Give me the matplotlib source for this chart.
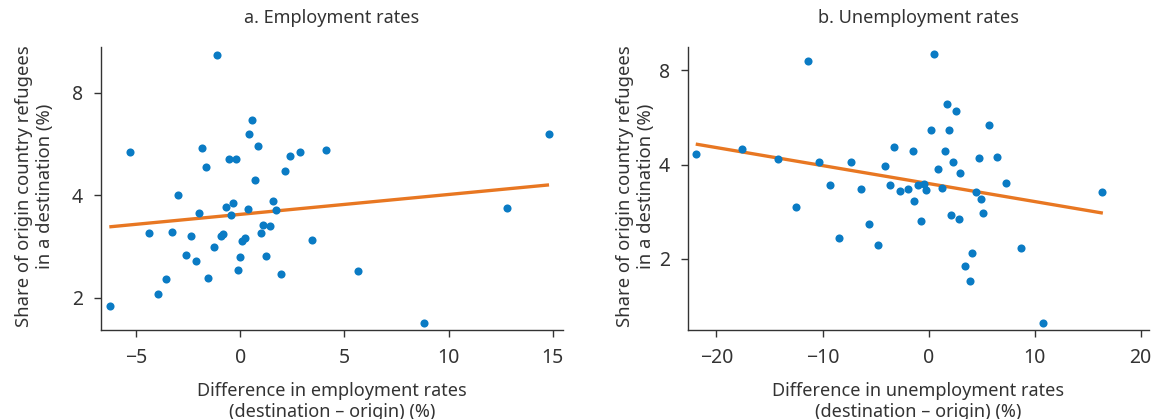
import matplotlib
matplotlib.use("Agg")
import matplotlib.pyplot as plt
from matplotlib.ticker import FixedLocator, NullLocator, FixedFormatter

plt.rcParams['font.family'] = ['Noto Sans', 'DejaVu Sans']

# ---------------- data ----------------
# Panel a: difference in employment rates vs share of refugees (%)
emp_x = [-6.27, -5.28, -4.40, -3.94, -3.55, -3.26, -2.98, -2.60, -2.35, -2.12,
         -1.96, -1.84, -1.66, -1.53, -1.25, -1.09, -0.93, -0.82, -0.66, -0.55,
         -0.43, -0.34, -0.21, -0.11, 0.00, 0.09, 0.21, 0.39, 0.43, 0.55,
         0.70, 0.84, 0.98, 1.07, 1.25, 1.43, 1.55, 1.71, 1.94, 2.16,
         2.39, 2.85, 3.44, 4.12, 5.65, 8.82, 12.82, 14.81]
emp_y = [1.89, 5.36, 3.10, 2.05, 2.27, 3.11, 4.02, 2.67, 3.04, 2.57,
         3.54, 5.49, 4.83, 2.29, 2.82, 10.35, 3.04, 3.08, 3.69, 5.10,
         3.50, 3.79, 5.12, 2.42, 2.63, 2.93, 2.99, 3.64, 6.06, 6.67,
         4.43, 5.59, 3.10, 3.28, 2.65, 3.24, 3.85, 3.62, 2.35, 4.70,
         5.20, 5.37, 2.96, 5.42, 2.39, 1.69, 3.68, 6.06]
emp_fit_x = [-6.28, 14.82]
emp_fit_y = [3.23, 4.29]

# Panel b: difference in unemployment rates vs share of refugees (%)
unemp_x = [-21.93, -17.62, -14.22, -12.54, -11.35, -10.37, -9.32, -8.48, -7.32, -6.41,
           -5.60, -4.80, -4.13, -3.68, -3.22, -2.70, -1.96, -1.51, -1.33, -1.00,
           -0.75, -0.47, -0.22, 0.21, 0.50, 0.85, 1.26, 1.51, 1.70, 1.89,
           2.14, 2.33, 2.61, 2.83, 2.95, 3.39, 3.86, 4.08, 4.43, 4.74,
           4.90, 5.09, 5.68, 6.41, 7.32, 8.67, 10.78, 16.37]
unemp_y = [4.32, 4.49, 4.17, 2.92, 8.54, 4.09, 3.44, 2.33, 4.09, 3.35,
           2.58, 2.22, 3.97, 3.43, 4.54, 3.30, 3.34, 4.41, 3.07, 3.43,
           2.65, 3.47, 3.32, 5.17, 9.00, 3.88, 3.36, 4.43, 6.26, 5.14,
           2.76, 4.08, 5.92, 2.69, 3.77, 1.90, 1.70, 2.09, 3.27, 4.21,
           3.10, 2.80, 5.36, 4.22, 3.49, 2.17, 1.25, 3.26]
unemp_fit_x = [-21.95, 16.43]
unemp_fit_y = [4.65, 2.80]

y_ticks = [2, 4, 8]
y_tick_labels = ['2', '4', '8']
emp_x_ticks = [-5, 0, 5, 10, 15]
emp_x_tick_labels = ['\u22125', '0', '5', '10', '15']
unemp_x_ticks = [-20, -10, 0, 10, 20]
unemp_x_tick_labels = ['\u221220', '\u221210', '0', '10', '20']

titles = ['a. Employment rates', 'b. Unemployment rates']
xlabels = ['Difference in employment rates\n(destination \u2013 origin) (%)',
           'Difference in unemployment rates\n(destination \u2013 origin) (%)']
ylabel = 'Share of origin country refugees\nin a destination (%)'

# ---------------- style ----------------
DOT = '#0A7BC4'
LINE = '#E87722'
DARK = '#333333'

W, H = 1164, 419
fig = plt.figure(figsize=(W / 100, H / 100), dpi=100)

def box(l, r, t, b):
    return [l / W, (H - b) / H, (r - l) / W, (b - t) / H]

ax_a = fig.add_axes(box(101, 563, 47, 330))
ax_b = fig.add_axes(box(688, 1149, 47, 330))

panels = [
    (ax_a, emp_x, emp_y, emp_fit_x, emp_fit_y, emp_x_ticks, emp_x_tick_labels,
     (-6.68, 15.49), (1.608, 10.9), -0.101),
    (ax_b, unemp_x, unemp_y, unemp_fit_x, unemp_fit_y, unemp_x_ticks, unemp_x_tick_labels,
     (-22.68, 20.78), (1.186, 9.49), -0.071),
]

for i, (ax, xs, ys, fx, fy, xt, xtl, xlim, ylim, ylab_x) in enumerate(panels):
    ax.set_yscale('log', base=2)
    ax.scatter(xs, ys, s=34, color=DOT, linewidths=0, zorder=3)
    ax.plot(fx, fy, color=LINE, lw=2.4, solid_capstyle='butt', zorder=2)
    ax.set_xlim(*xlim)
    ax.set_ylim(*ylim)
    ax.yaxis.set_major_locator(FixedLocator(y_ticks))
    ax.yaxis.set_major_formatter(FixedFormatter(y_tick_labels))
    ax.yaxis.set_minor_locator(NullLocator())
    ax.set_xticks(xt)
    ax.set_xticklabels(xtl)
    for side in ['top', 'right']:
        ax.spines[side].set_visible(False)
    for side in ['left', 'bottom']:
        ax.spines[side].set_color(DARK)
        ax.spines[side].set_linewidth(1.0)
    ax.tick_params(axis='both', direction='out', length=5, width=1.0,
                   color=DARK, labelcolor=DARK, labelsize=14, pad=8)
    ax.set_title(titles[i], fontsize=13, color=DARK, pad=17)
    ax.set_xlabel(xlabels[i], fontsize=13, color=DARK, labelpad=10, linespacing=1.2)
    ax.set_ylabel(ylabel, fontsize=13.3, color=DARK, linespacing=1.25)
    ax.yaxis.set_label_coords(ylab_x, 0.507)

fig.savefig('out.png', dpi=100, facecolor='white')
